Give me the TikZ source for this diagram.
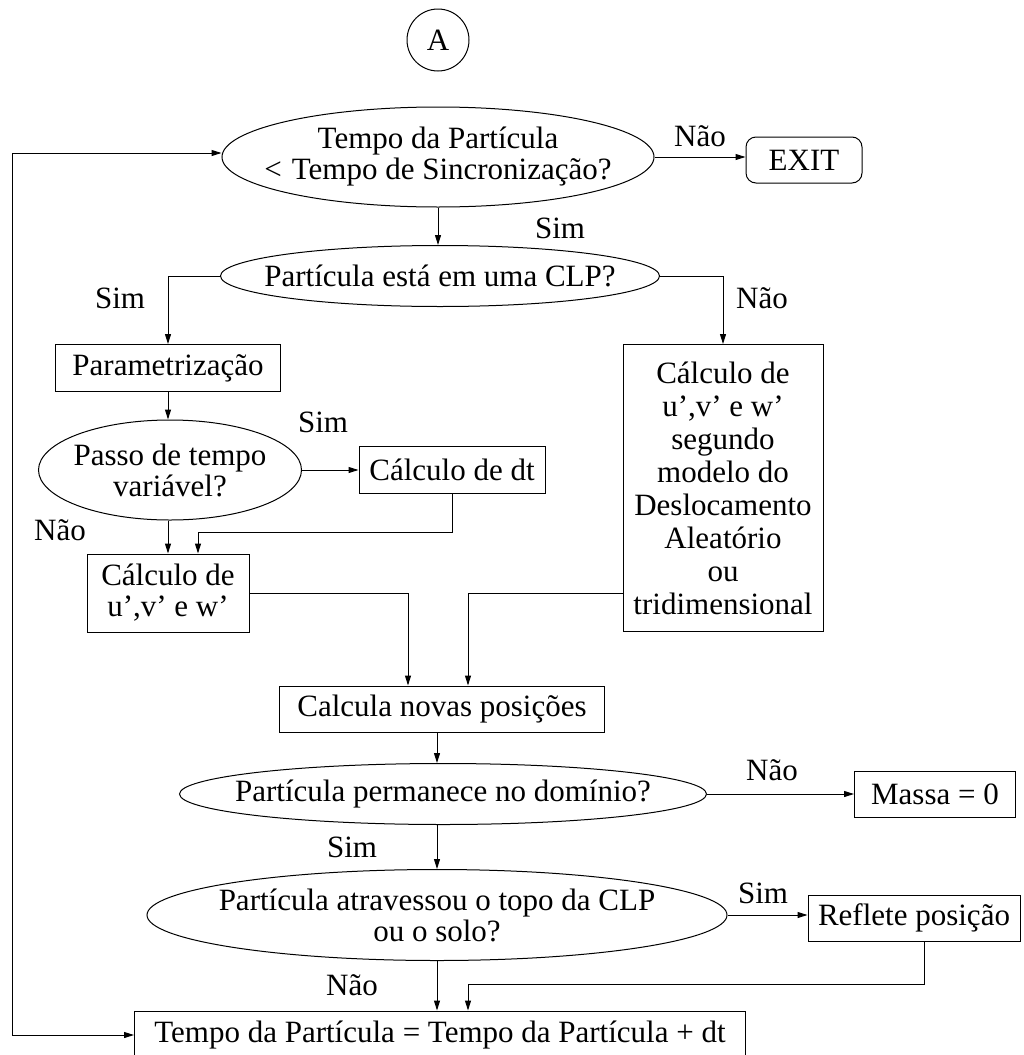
\documentclass[tikz,border=0pt]{standalone}
\usepackage{fontspec}
\setmainfont{Liberation Serif}
\usetikzlibrary{arrows.meta,shapes.geometric}

\begin{document}
\begin{tikzpicture}[x=0.5pt,y=-0.5pt,line width=0.5pt,
  every node/.style={font=\fontsize{15.5}{15.5}\selectfont},
  decisao/.style={draw,ellipse,inner sep=0pt,label={[align=center]center:{#1}}},
  caixa/.style={draw,rectangle,inner sep=0pt,align=center},
  seta/.style={-{Triangle[length=5pt,width=3pt]}}]
\useasboundingbox (0,0) rectangle (1023,1055);
\node[draw,circle,minimum size=31pt,inner sep=0pt] (A) at (438,40) {A};
\node[decisao={Tempo da Partícula\\<\hspace{5pt}Tempo de Sincronização?},minimum width=216pt,minimum height=50pt] (q1) at (438,157) {};
\node[draw,rounded corners=5pt,minimum width=58pt,minimum height=23pt,inner sep=0pt] (exit) at (804,160) {EXIT};
\node[decisao={Partícula está em uma CLP?},minimum width=219.5pt,minimum height=30.5pt] (q2) at (440,276) {};
\node[caixa,minimum width=112.5pt,minimum height=23.5pt] (param) at (168,368) {Parametrização};
\node[decisao={Passo de tempo\\variável?},minimum width=131.5pt,minimum height=50pt] (q3) at (170,470) {};
\node[caixa,minimum width=93pt,minimum height=23.5pt] (dt) at (452,470) {Cálculo de dt};
\node[caixa,minimum width=81pt,minimum height=39pt] (cuvw) at (168,593) {Cálculo de\\u’,v’ e w’};
\node[caixa,minimum width=100pt,minimum height=143.5pt,font=\fontsize{15.5}{16.5}\selectfont] (aleat) at (723,488) {Cálculo de\\u’,v’ e w’\\segundo\\modelo do\\Deslocamento\\Aleatório\\ou\\tridimensional};
\node[caixa,minimum width=162.5pt,minimum height=23pt] (novas) at (442,709) {Calcula novas posições};
\node[decisao={Partícula permanece no domínio?},minimum width=263.5pt,minimum height=30.5pt] (q4) at (443,794) {};
\node[caixa,minimum width=80.5pt,minimum height=23pt] (massa) at (935,794) {Massa = 0};
\node[decisao={Partícula atravessou o topo da CLP\\ou o solo?},minimum width=290pt,minimum height=45.5pt] (q5) at (437,915) {};
\node[caixa,minimum width=106pt,minimum height=23pt] (refl) at (914,918) {Reflete posição};
\node[caixa,minimum width=305.5pt,minimum height=24pt] (tempo) at (440,1035) {Tempo da Partícula = Tempo da Partícula + dt};
\coordinate (ret) at (12,1035);
\node (l1) at (700,136) {Não};
\node (l2) at (560,228) {Sim};
\node (l3) at (120,298) {Sim};
\node (l4) at (762,298) {Não};
\node (l5) at (323,422) {Sim};
\node (l6) at (60,530) {Não};
\node (l7) at (772,770) {Não};
\node (l8) at (352,847) {Sim};
\node (l9) at (763,893) {Sim};
\node (l10) at (352,985) {Não};
\draw[seta] (q1.east) -- (q1.east -| exit.west);
\draw[seta] (q1.south) -- (q1.south |- q2.north);
\draw[seta] (q2.west) -| (param.north);
\draw[seta] (q2.east) -| (aleat.north);
\draw[seta] (param.south) -- (param.south |- q3.north);
\draw[seta] (q3.east) -- (dt.west);
\draw[seta] (q3.south -| cuvw.north) -- (cuvw.north);
\draw[seta] (dt.south) -- ++(0,38) -| ([xshift=15pt]cuvw.north);
\draw[seta] (cuvw.east) -| ([xshift=-17pt]novas.north);
\draw[seta] (aleat.west |- cuvw.east) -| ([xshift=13pt]novas.north);
\draw[seta] (novas.south -| q5.north) -- (q5.north |- q4.north);
\draw[seta] (q4.east) -- (massa.west);
\draw[seta] (q4.south -| q5.north) -- (q5.north);
\draw[seta] (q5.east) -- (q5.east -| refl.west);
\draw[seta] ([xshift=5pt]refl.south) -- ++(0,43) -| ([xshift=14pt]tempo.north);
\draw[seta] (q5.south) -- (q5.south |- tempo.north);
\draw[seta] (ret) -- (tempo.west);
\draw[seta] (ret) |- ([yshift=2pt]q1.west);
\end{tikzpicture}
\end{document}
